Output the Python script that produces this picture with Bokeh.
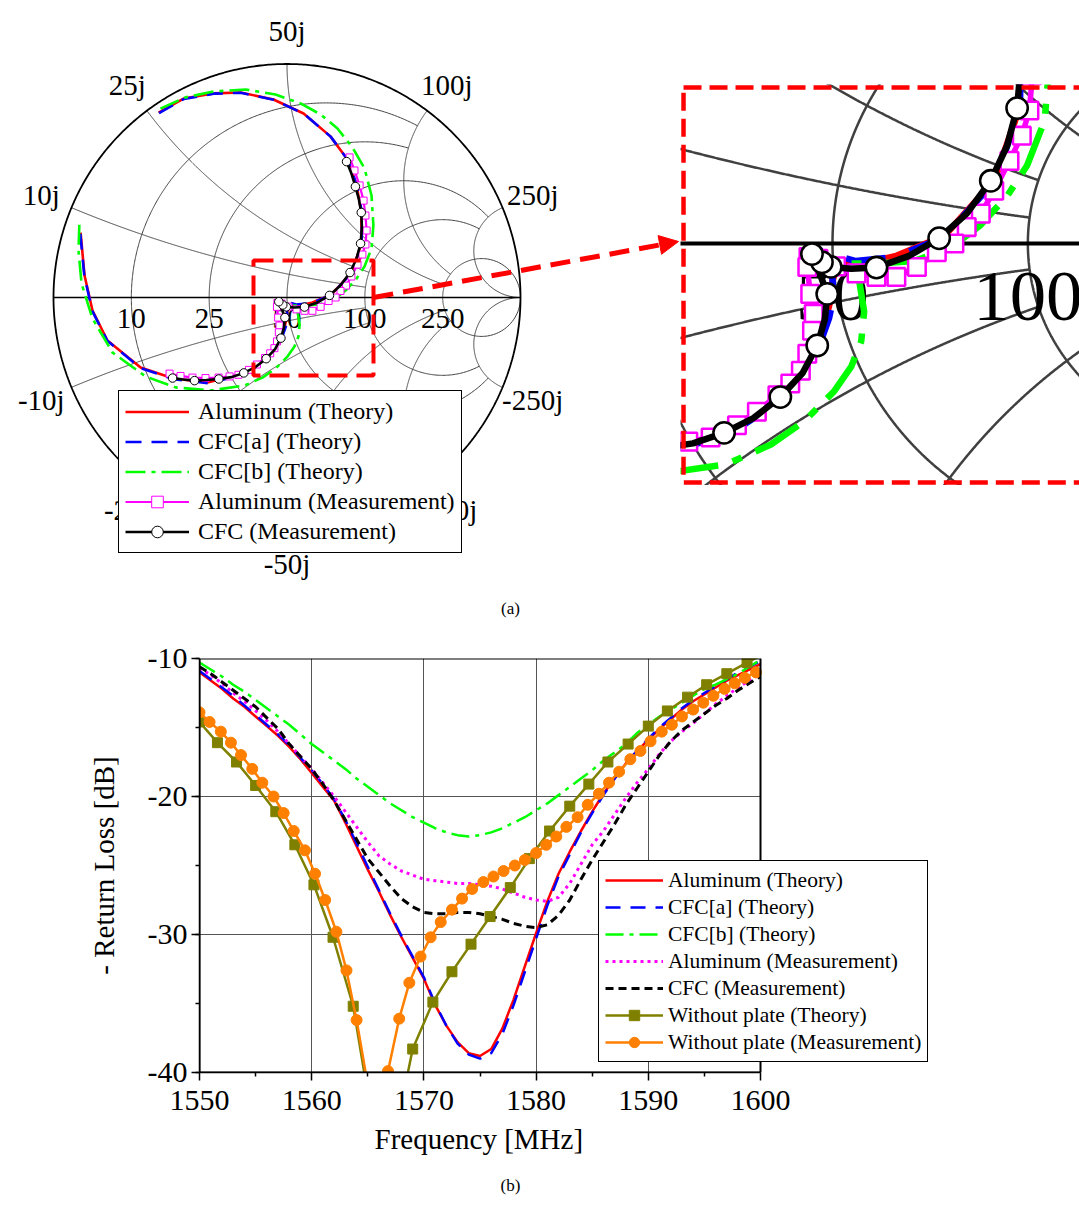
import numpy as np
from bokeh.plotting import figure
from bokeh.layouts import column, row
from bokeh.models import (Range1d, Legend, LegendItem, Arrow, NormalHead, Title, Spacer,
                          BoxAnnotation, Label, SingleIntervalTicker, FixedTicker)
from bokeh.embed import file_html
from bokeh.resources import INLINE
from bokeh.core.properties import value

FONT = "Liberation Serif"
RED, BLUE, GREEN, MAGENTA = "#ff0000", "#0000ff", "#00ff00", "#ff00ff"
OLIVE, ORANGE = "#808000", "#ff8000"

# ================= (a) Smith chart data : reflection coefficient =================
al_th_re = [-0.550, -0.443, -0.315, -0.199, -0.058, 0.071, 0.186, 0.259, 0.298, 0.319,
            0.319, 0.276, 0.191, 0.109, 0.045, 0.019, 0.006, 0.000, -0.002, -0.011,
            -0.028, -0.088, -0.186, -0.341, -0.486, -0.627, -0.769, -0.833, -0.867, -0.884]
al_th_im = [0.792, 0.852, 0.874, 0.878, 0.848, 0.788, 0.690, 0.591, 0.480, 0.364,
            0.231, 0.107, 0.013, -0.021, -0.036, -0.034, -0.043, -0.064, -0.090, -0.128,
            -0.176, -0.261, -0.326, -0.364, -0.347, -0.300, -0.184, -0.056, 0.094, 0.278]

cfca_th_re = [-0.548, -0.442, -0.314, -0.198, -0.057, 0.072, 0.187, 0.260, 0.300, 0.321,
              0.320, 0.277, 0.190, 0.107, 0.040, 0.010, -0.021, -0.008, 0.000, 0.002,
              -0.006, -0.024, -0.084, -0.183, -0.339, -0.485, -0.627, -0.770, -0.834, -0.868, -0.885]
cfca_th_im = [0.790, 0.850, 0.873, 0.877, 0.847, 0.787, 0.689, 0.590, 0.479, 0.363,
              0.230, 0.106, 0.011, -0.023, -0.030, -0.022, -0.012, -0.030, -0.060, -0.090,
              -0.128, -0.178, -0.265, -0.330, -0.367, -0.350, -0.302, -0.185, -0.057, 0.093, 0.272]

cfcb_th_re = [-0.542, -0.435, -0.315, -0.178, -0.049, 0.058, 0.144, 0.216, 0.281, 0.332,
              0.362, 0.370, 0.362, 0.332, 0.298, 0.251, 0.199, 0.139, 0.079, 0.024,
              0.045, 0.054, 0.049, 0.032, 0.002, -0.049, -0.105, -0.182, -0.328, -0.478,
              -0.606, -0.747, -0.833, -0.880, -0.893, -0.889]
cfcb_th_im = [0.809, 0.857, 0.882, 0.891, 0.869, 0.831, 0.784, 0.724, 0.642, 0.553,
              0.437, 0.308, 0.210, 0.133, 0.081, 0.030, -0.009, -0.030, -0.034, -0.034,
              -0.060, -0.116, -0.167, -0.210, -0.253, -0.304, -0.343, -0.377, -0.398, -0.385,
              -0.338, -0.236, -0.090, 0.060, 0.201, 0.317]

al_ms_re = [0.268, 0.289, 0.311, 0.328, 0.336, 0.341, 0.336, 0.323, 0.302, 0.276,
            0.253, 0.229, 0.208, 0.178, 0.144, 0.109, 0.075, 0.041, 0.006, -0.024,
            -0.041, -0.043, -0.038, -0.032, -0.035, -0.043, -0.054, -0.072, -0.094, -0.129,
            -0.163, -0.208, -0.246, -0.293, -0.349, -0.405, -0.456, -0.503]
al_ms_im = [0.600, 0.544, 0.480, 0.415, 0.351, 0.287, 0.227, 0.184, 0.141, 0.090,
            0.051, 0.028, 0.000, -0.015, -0.040, -0.057, -0.057, -0.051, -0.039, -0.026,
            -0.023, -0.040, -0.086, -0.120, -0.149, -0.188, -0.217, -0.239, -0.259, -0.287,
            -0.310, -0.331, -0.338, -0.343, -0.345, -0.343, -0.336, -0.326]

cfc_ms_re = [0.255, 0.276, 0.293, 0.308, 0.318, 0.321, 0.315, 0.298, 0.270, 0.229,
             0.182, 0.131, 0.075, 0.032, -0.003, -0.018, -0.035, -0.028, -0.009, -0.013,
             -0.026, -0.051, -0.089, -0.135, -0.185, -0.238, -0.292, -0.345, -0.396, -0.443, -0.490]
cfc_ms_im = [0.582, 0.531, 0.475, 0.420, 0.364, 0.300, 0.231, 0.167, 0.107, 0.051,
             0.009, -0.021, -0.041, -0.043, -0.040, -0.032, -0.018, -0.034, -0.086, -0.129,
             -0.174, -0.221, -0.262, -0.298, -0.323, -0.341, -0.349, -0.353, -0.356, -0.351, -0.345]
cfc_ms_marked = [0, 2, 4, 6, 8, 10, 12, 14, 15, 16, 18, 20, 22, 24, 26, 28, 30]

# Smith grid (normalised to Z0)
Z0 = 50
grid_r = [0.2, 0.5, 1, 2, 5]
grid_r_xmax = [2, 2, 5, 5, None]
grid_x = [0.2, 0.5, 1, 2, 5]
grid_x_rmax = [2, 2, 5, 5, None]
re_tick_labels = [10, 25, 50, 100, 250]
im_tick_labels = [10, 25, 50, 100, 250, -10, -25, -50, -100, -250]

smith_names = ["Aluminum (Theory)", "CFC[a] (Theory)", "CFC[b] (Theory)",
               "Aluminum (Measurement)", "CFC (Measurement)"]

# ================= (b) return loss data =================
freq = [1550, 1551, 1552, 1553, 1554, 1555, 1556, 1557, 1558, 1559,
        1560, 1561, 1562, 1563, 1564, 1565, 1566, 1567, 1568, 1569,
        1570, 1571, 1572, 1573, 1574, 1575, 1576, 1577, 1578, 1579,
        1580, 1581, 1582, 1583, 1584, 1585, 1586, 1587, 1588, 1589,
        1590, 1591, 1592, 1593, 1594, 1595, 1596, 1597, 1598, 1599, 1600]
rl_al_th = [-11.0, -11.6, -12.2, -12.9, -13.5, -14.2, -14.9, -15.6, -16.4, -17.3,
            -18.3, -19.3, -20.3, -21.9, -23.6, -25.3, -26.9, -28.6, -30.2, -31.7,
            -33.2, -35.1, -36.6, -37.8, -38.6, -38.8, -38.3, -36.8, -34.7, -32.3,
            -29.9, -27.6, -25.6, -24.0, -22.5, -21.1, -19.8, -18.7, -17.6, -16.7,
            -15.9, -15.1, -14.4, -13.7, -13.1, -12.6, -12.1, -11.6, -11.2, -10.8, -10.4]
rl_cfca_th = [-10.9, -11.5, -12.1, -12.7, -13.4, -14.1, -14.8, -15.5, -16.3, -17.2,
              -18.1, -19.1, -20.2, -21.7, -23.4, -25.1, -26.8, -28.5, -30.1, -31.6,
              -33.1, -35.0, -36.6, -37.9, -38.7, -39.0, -38.6, -37.2, -35.1, -32.7,
              -30.3, -27.9, -25.8, -24.2, -22.6, -21.2, -19.9, -18.7, -17.6, -16.7,
              -15.8, -15.0, -14.3, -13.6, -13.0, -12.5, -12.0, -11.5, -11.0, -10.6, -10.2]
rl_cfcb_th = [-10.3, -10.8, -11.3, -11.9, -12.4, -13.0, -13.6, -14.2, -14.8, -15.5,
              -16.2, -16.8, -17.4, -18.0, -18.7, -19.3, -19.9, -20.5, -21.0, -21.5,
              -21.9, -22.3, -22.6, -22.8, -22.9, -22.8, -22.6, -22.3, -21.9, -21.5,
              -21.0, -20.5, -19.9, -19.3, -18.7, -18.1, -17.4, -16.8, -16.2, -15.4,
              -14.8, -14.2, -13.7, -13.2, -12.7, -12.2, -11.9, -11.5, -11.1, -10.6, -10.1]
rl_al_ms = [-10.7, -11.2, -11.8, -12.5, -13.1, -13.8, -14.5, -15.3, -16.2, -17.1,
            -18.0, -19.0, -20.0, -21.1, -22.2, -23.3, -24.3, -24.9, -25.4, -25.7,
            -26.0, -26.1, -26.2, -26.3, -26.3, -26.4, -26.5, -26.7, -27.0, -27.3,
            -27.5, -27.6, -27.3, -26.3, -24.9, -23.5, -22.5, -21.3, -20.1, -19.0,
            -18.0, -16.9, -16.0, -15.3, -14.7, -14.0, -13.3, -12.7, -12.1, -11.6, -11.1]
rl_cfc_ms = [-10.6, -11.1, -11.7, -12.3, -12.9, -13.5, -14.3, -15.1, -16.2, -17.1,
             -18.0, -19.1, -20.3, -21.7, -23.1, -24.5, -25.5, -26.5, -27.4, -28.0,
             -28.4, -28.5, -28.5, -28.4, -28.4, -28.5, -28.7, -28.9, -29.2, -29.4,
             -29.5, -29.3, -28.6, -27.5, -26.0, -24.6, -23.3, -22.0, -20.6, -19.4,
             -18.2, -17.0, -16.0, -15.2, -14.6, -14.0, -13.4, -12.9, -12.3, -11.8, -11.3]
np_th_freq = [1550.0, 1551.6, 1553.3, 1555.0, 1556.8, 1558.5, 1560.2, 1561.9, 1563.7, 1565.4,
              1567.2, 1569.0, 1570.8, 1572.5, 1574.2, 1575.9, 1577.7, 1579.4, 1581.2, 1583.0,
              1584.7, 1586.4, 1588.2, 1590.0, 1591.7, 1593.5, 1595.2, 1597.0, 1598.8, 1600.0]
np_th_rl = [-14.6, -16.1, -17.5, -19.2, -21.1, -23.5, -26.4, -30.2, -35.2, -43.5,
            -45.5, -38.3, -34.9, -32.7, -30.7, -28.7, -26.6, -24.5, -22.5, -20.7,
            -19.1, -17.5, -16.2, -14.9, -13.8, -12.8, -11.9, -11.1, -10.3, -9.8]
np_th_n_marked = 29          # the last point only closes the line at the corner
np_ms_freq = [1550.0, 1550.9, 1551.9, 1552.8, 1553.7, 1554.7, 1555.6, 1556.6, 1557.5, 1558.4,
              1559.4, 1560.3, 1561.2, 1562.2, 1563.1, 1564.0, 1565.0, 1565.9, 1566.8, 1567.8,
              1568.7, 1569.7, 1570.6, 1571.5, 1572.5, 1573.4, 1574.3, 1575.3, 1576.2, 1577.1,
              1578.1, 1579.0, 1580.0, 1580.9, 1581.8, 1582.7, 1583.7, 1584.6, 1585.6, 1586.5,
              1587.4, 1588.4, 1589.3, 1590.2, 1591.2, 1592.1, 1593.0, 1594.0, 1594.9, 1595.8,
              1596.8, 1597.7, 1598.6, 1599.6]
np_ms_rl = [-13.9, -14.6, -15.3, -16.1, -17.0, -18.0, -19.0, -20.0, -21.2, -22.5,
            -23.9, -25.6, -27.5, -29.8, -32.6, -36.2, -40.9, -43.5, -39.9, -36.1,
            -33.5, -31.6, -30.2, -29.1, -28.2, -27.4, -26.7, -26.2, -25.8, -25.4,
            -25.0, -24.6, -24.1, -23.5, -22.9, -22.2, -21.5, -20.6, -19.8, -19.0,
            -18.2, -17.3, -16.7, -16.0, -15.3, -14.8, -14.2, -13.7, -13.2, -12.7,
            -12.2, -11.8, -11.4, -11.0]
rl_names = ["Aluminum (Theory)", "CFC[a] (Theory)", "CFC[b] (Theory)",
            "Aluminum (Measurement)", "CFC (Measurement)",
            "Without plate (Theory)", "Without plate (Measurement)"]
x_ticks = [1550, 1560, 1570, 1580, 1590, 1600]
x_minor_ticks = [1555, 1565, 1575, 1585, 1595]
y_tick_labels = {-10: "-10", -20: "-20", -30: "-30", -40: "-40"}
x_title = "Frequency [MHz]"
y_title = "- Return Loss [dB]"

# ================= layout constants (pixels) =================
PX = 233.5                     # pixels per unit reflection coefficient (main chart)
MAG = 2.51                     # inset magnification
W1, W2, H1 = 680, 399, 620
C1 = (286.5, 297.0)            # canvas position of Gamma = 0 (main)
IN_TOP, IN_BOT = 84, 485       # page rows covered by the inset window
C2 = (152.0, 243.0 - IN_TOP)   # canvas position of Gamma = 0 (inset)
ZOOM_BOX = (-0.1435, 0.3704, -0.334, 0.1585)       # left, right, bottom, top
INSET_FRAME = (-0.2542, 0.60, -0.4078, 0.2662)
ARROW = (0.3704, 0.0, 1.6767, 0.2398)
MHZ_PX = 11.22
FRAME_R = 940                  # right end of the (b) frame, so that the legend fits


def gamma(z):
    return (z - 1) / (z + 1)


def dash(pattern, k):
    return " ".join(str(int(round(v * k))) for v in pattern)


def smith_grid(p, k, xlim=None):
    xs, ys = [], []
    for r, xmax in zip(grid_r, grid_r_xmax):
        tmax = np.arctan(xmax) if xmax else np.pi / 2 - 1e-5
        t = np.linspace(-tmax, tmax, 600)
        g = gamma(r + 1j * np.tan(t))
        xs.append(g.real.tolist()); ys.append(g.imag.tolist())
    for x, rmax in zip(grid_x, grid_x_rmax):
        tmax = np.arctan(rmax) if rmax else np.pi / 2 - 1e-5
        t = np.linspace(0, tmax, 600)
        for s in (1, -1):
            g = gamma(np.tan(t) + 1j * s * x)
            xs.append(g.real.tolist()); ys.append(g.imag.tolist())
    p.multi_line(xs, ys, line_color="#404040", line_width=1.0 * k)
    th = np.linspace(0, 2 * np.pi, 721)
    p.line(np.cos(th), np.sin(th), line_color="black", line_width=1.8 * k)
    p.segment(x0=[-1], y0=[0], x1=[1], y1=[0], line_color="black", line_width=1.6 * k)
    rr = np.array(re_tick_labels) / Z0
    gr = (rr - 1) / (rr + 1)
    keep = [i for i in range(len(gr)) if xlim is None or xlim[0] < gr[i] < xlim[1]]
    p.text(x=[gr[i] for i in keep], y=[-0.09] * len(keep),
           text=[str(re_tick_labels[i]) for i in keep], text_font=value(FONT),
           text_font_size=f"{29 * k:.1f}px", text_align="center",
           text_baseline="middle", text_color="black")
    if xlim is None:
        gi = gamma(1j * np.array(im_tick_labels) / Z0) * 1.14
        p.text(x=gi.real.tolist(), y=gi.imag.tolist(),
               text=[f"{v}j" for v in im_tick_labels], text_font=value(FONT),
               text_font_size=f"{29 * k:.1f}px", text_align="center",
               text_baseline="middle", text_color="black")


def smith_curves(p, k):
    r1 = p.line(al_th_re, al_th_im, line_color=RED, line_width=2.6 * k)
    r2 = p.line(cfca_th_re, cfca_th_im, line_color=BLUE, line_width=2.6 * k,
                line_dash=dash([16, 10], k))
    r3 = p.line(cfcb_th_re, cfcb_th_im, line_color=GREEN, line_width=2.6 * k,
                line_dash=dash([20, 6, 4, 6], k))
    r4 = p.line(al_ms_re, al_ms_im, line_color=MAGENTA, line_width=2.2 * k)
    r4m = p.scatter(al_ms_re, al_ms_im, marker="square", size=7 * k, fill_color="white",
                    line_color=MAGENTA, line_width=1.0 * k)
    r5 = p.line(cfc_ms_re, cfc_ms_im, line_color="black", line_width=2.6 * k)
    r5m = p.scatter([cfc_ms_re[i] for i in cfc_ms_marked], [cfc_ms_im[i] for i in cfc_ms_marked],
                    marker="circle", size=8.5 * k, fill_color="white", line_color="black",
                    line_width=1.0 * k)
    return [[r1], [r2], [r3], [r4, r4m], [r5, r5m]]


# ---------------- main Smith chart ----------------
p1 = figure(width=W1, height=H1, output_backend="svg", toolbar_location=None,
            x_range=Range1d(-C1[0] / PX, (W1 - C1[0]) / PX),
            y_range=Range1d(-(H1 - C1[1]) / PX, C1[1] / PX),
            x_axis_type=None, y_axis_type=None, min_border=0)
p1.grid.visible = False
p1.outline_line_color = None
smith_grid(p1, 1)
rends = smith_curves(p1, 1)
p1.add_layout(BoxAnnotation(left=ZOOM_BOX[0], right=ZOOM_BOX[1], bottom=ZOOM_BOX[2],
                            top=ZOOM_BOX[3], fill_alpha=0, fill_color=None, line_alpha=1,
                            line_color=RED, line_width=4, line_dash="20 9"))
p1.add_layout(Arrow(x_start=ARROW[0], y_start=ARROW[1], x_end=ARROW[2], y_end=ARROW[3],
                    line_color=RED, line_width=5, line_dash="20 10",
                    end=NormalHead(size=19, fill_color=RED, line_color=RED, line_width=1)))
leg1 = Legend(items=[LegendItem(label=n, renderers=r) for n, r in zip(smith_names, rends)],
              location=(118, 620 - 553), label_text_font=FONT, label_text_font_size="24px",
              label_text_color="black",
              glyph_width=64, glyph_height=29, label_height=29, label_standoff=9,
              padding=6, spacing=1, border_line_color="black", border_line_width=1,
              border_line_alpha=1,
              background_fill_color="white", background_fill_alpha=1, margin=0)
p1.add_layout(leg1)
p1.add_layout(Label(x=510, y=12, x_units="screen", y_units="screen", text="(a)",
                    text_font=FONT, text_font_size="17px", text_align="center",
                    text_baseline="middle", text_color="black"))

# ---------------- zoomed inset ----------------
PX2 = PX * MAG
H2 = IN_BOT - IN_TOP
xr2 = (-C2[0] / PX2, (W2 - C2[0]) / PX2)
p2 = figure(width=W2, height=H2, output_backend="svg", toolbar_location=None,
            x_range=Range1d(*xr2),
            y_range=Range1d(-(H2 - C2[1]) / PX2, C2[1] / PX2),
            x_axis_type=None, y_axis_type=None, min_border=0)
p2.grid.visible = False
p2.outline_line_color = None
smith_grid(p2, MAG, xlim=xr2)
smith_curves(p2, MAG)
p2.add_layout(BoxAnnotation(left=INSET_FRAME[0], right=INSET_FRAME[1], bottom=INSET_FRAME[2],
                            top=INSET_FRAME[3], fill_alpha=0, fill_color=None, line_alpha=1,
                            line_color=RED, line_width=4.5, line_dash="18 8"))

# ---------------- (b) return loss ----------------
H3 = 586
p3 = figure(width=1079, height=H3, output_backend="svg", toolbar_location=None,
            x_range=Range1d(1550, 1600 + (FRAME_R - 760) / MHZ_PX), y_range=Range1d(-40, -10),
            min_border_left=199, min_border_right=1079 - FRAME_R, min_border_top=38,
            min_border_bottom=H3 - (1072 - 620))
p3.xaxis.ticker = FixedTicker(ticks=x_ticks, minor_ticks=x_minor_ticks)
p3.xaxis.bounds = (x_ticks[0], x_ticks[-1])
p3.yaxis.ticker = SingleIntervalTicker(interval=10, num_minor_ticks=2)
p3.yaxis.major_label_overrides = y_tick_labels
p3.yaxis.axis_label = y_title
for ax in (p3.xaxis[0], p3.yaxis[0]):
    ax.major_label_text_font = FONT
    ax.major_label_text_font_size = "30px"
    ax.major_label_text_color = "black"
    ax.axis_label_text_font = FONT
    ax.axis_label_text_font_size = "29px"
    ax.axis_label_text_font_style = "normal"
    ax.axis_label_text_color = "black"
    ax.axis_line_color = "black"
    ax.axis_line_width = 1.5
    ax.major_tick_line_color = "black"
    ax.major_tick_line_width = 1.5
    ax.minor_tick_line_color = "black"
    ax.minor_tick_line_width = 1.5
    ax.major_tick_in = 0
    ax.major_tick_out = 8
    ax.minor_tick_in = 0
    ax.minor_tick_out = 4
p3.xaxis.major_label_standoff = 10
p3.yaxis.major_label_standoff = 4
p3.yaxis.axis_label_standoff = 25
p3.grid.grid_line_color = "#555555"
p3.grid.grid_line_width = 1
p3.outline_line_color = None
try:
    p3.ygrid.cross_bounds = (x_ticks[0], x_ticks[-1])
except Exception:
    p3.ygrid.visible = False
    p3.segment(x0=[x_ticks[0]] * 2, x1=[x_ticks[-1]] * 2, y0=[-20, -30], y1=[-20, -30],
               line_color="#555555", line_width=1)

b1 = p3.line(freq, rl_al_th, line_color=RED, line_width=2.5)
b2 = p3.line(freq, rl_cfca_th, line_color=BLUE, line_width=2.5, line_dash="15 10")
b3 = p3.line(freq, rl_cfcb_th, line_color=GREEN, line_width=2.5, line_dash="18 6 4 6")
b4 = p3.line(freq, rl_al_ms, line_color=MAGENTA, line_width=3, line_dash="3 4")
b5 = p3.line(freq, rl_cfc_ms, line_color="black", line_width=3, line_dash="8 5")
b6 = p3.line(np_th_freq, np_th_rl, line_color=OLIVE, line_width=2.5)
b6m = p3.scatter(np_th_freq[:np_th_n_marked], np_th_rl[:np_th_n_marked], marker="square",
                 size=10, fill_color=OLIVE, line_color=OLIVE)
b7 = p3.line(np_ms_freq, np_ms_rl, line_color=ORANGE, line_width=2.5)
b7m = p3.scatter(np_ms_freq, np_ms_rl, marker="circle", size=11, fill_color=ORANGE,
                 line_color=ORANGE)
p3.add_layout(BoxAnnotation(left=x_ticks[0], right=x_ticks[-1], bottom=-40, top=-10,
                            fill_alpha=0, fill_color=None, line_color="black",
                            line_alpha=1, line_width=2))
leg3 = Legend(items=[LegendItem(label=n, renderers=r) for n, r in
                     zip(rl_names, [[b1], [b2], [b3], [b4], [b5], [b6, b6m], [b7, b7m]])],
              location=(598 - 199, 1072 - 1062), label_text_font=FONT,
              label_text_font_size="21.5px", label_text_color="black",
              glyph_width=58, glyph_height=26, label_height=26, label_standoff=5,
              padding=6, spacing=1, border_line_color="black", border_line_width=1,
              border_line_alpha=1,
              background_fill_color="white", background_fill_alpha=1, margin=0)
p3.add_layout(leg3)
p3.add_layout(Title(text=x_title, align="left", offset=374 - 199, standoff=16, text_font=FONT,
                    text_font_size="29px", text_font_style="normal", text_color="black"),
              "below")
p3.add_layout(Title(text="(b)", align="left", offset=301, standoff=23, text_font=FONT,
                    text_font_size="17px", text_font_style="normal", text_color="black"),
              "below")

layout = column(row(p1, column(Spacer(width=W2, height=IN_TOP), p2)), p3)
open("out.html", "w").write(file_html(layout, INLINE))
